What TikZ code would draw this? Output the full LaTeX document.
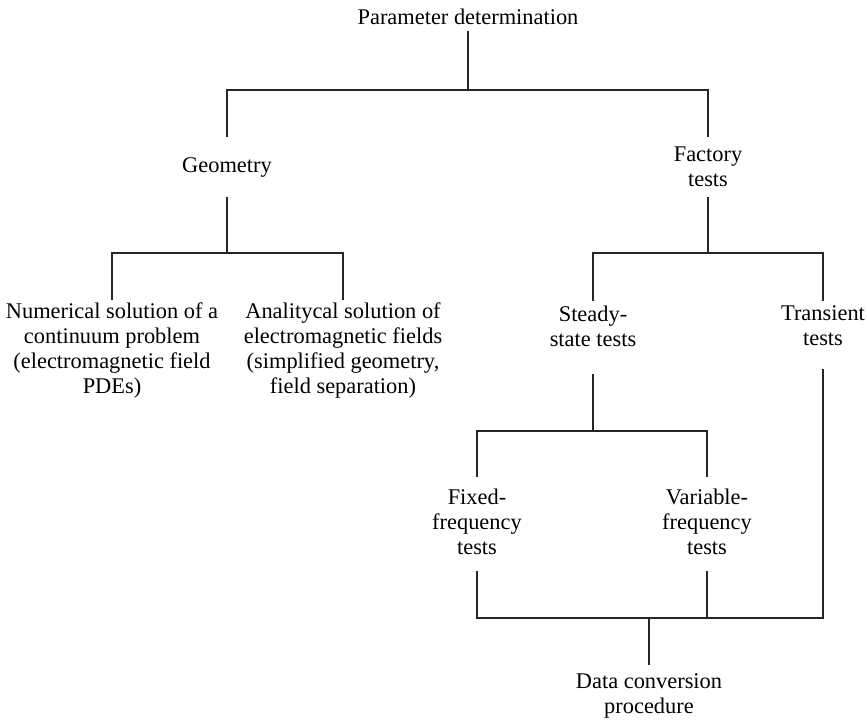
\documentclass[tikz,border=0pt]{standalone}
\usepackage{fontspec}
\setmainfont{Liberation Serif}
\usepackage{tikz}

\begin{document}
\begin{tikzpicture}[x=0.5pt,y=-0.5pt,line width=1pt,color=black!85]
\fontsize{11.2}{12.5}\selectfont
\tikzstyle{every node}=[inner sep=0pt,align=center,text=black];
\useasboundingbox (0,0) rectangle (867,719);
\node (pd) at (468, 17) {Parameter determination};
\node (geo) at (227, 167) {Geometry};
\node (fac) at (708, 167) {Factory\\tests};
\node (num) at (112, 350) {Numerical solution of a\\continuum problem\\(electromagnetic field\\PDEs)};
\node (ana) at (343, 350) {Analitycal solution of\\electromagnetic fields\\(simplified geometry,\\field separation)};
\node (sst) at (593, 326) {Steady-\\state tests};
\node (trt) at (823, 326) {Transient\\tests};
\node (fft) at (477, 522) {Fixed-\\frequency\\tests};
\node (vft) at (707, 522) {Variable-\\frequency\\tests};
\node (dcp) at (649, 696) {Data conversion\\procedure};
\coordinate (j1) at (468, 90);
\coordinate (j2) at (227, 253);
\coordinate (j3) at (708, 253);
\coordinate (j4) at (593, 431);
\coordinate (j5) at (649, 618);
\draw [-, shorten <=2.5pt] (pd.south) -- (j1);
\draw [-, shorten <=9.7pt, shorten >=4.6pt] (geo.north) |- (j1) -| (fac.north);
\draw [-, shorten <=9.7pt] (geo.south) -- (j2);
\draw [-, shorten <=0.5pt, shorten >=0.5pt] (num.north) |- (j2) -| (ana.north);
\draw [-, shorten <=4.6pt] (fac.south) -- (j3);
\draw [-, shorten <=2pt, shorten >=2pt] (sst.north) |- (j3) -| (trt.north);
\draw [-, shorten <=13.5pt] (sst.south) -- (j4);
\draw [-, shorten <=5.5pt, shorten >=5.5pt] (fft.north) |- (j4) -| (vft.north);
\draw [-, shorten <=7.5pt, shorten >=11pt] (fft.south) |- (j5) -| (trt.south);
\draw [-, shorten <=7.5pt] (vft.south) -- (vft.south |- j5);
\draw [-, shorten >=4pt] (j5) -- (dcp.north);
\end{tikzpicture}
\end{document}
